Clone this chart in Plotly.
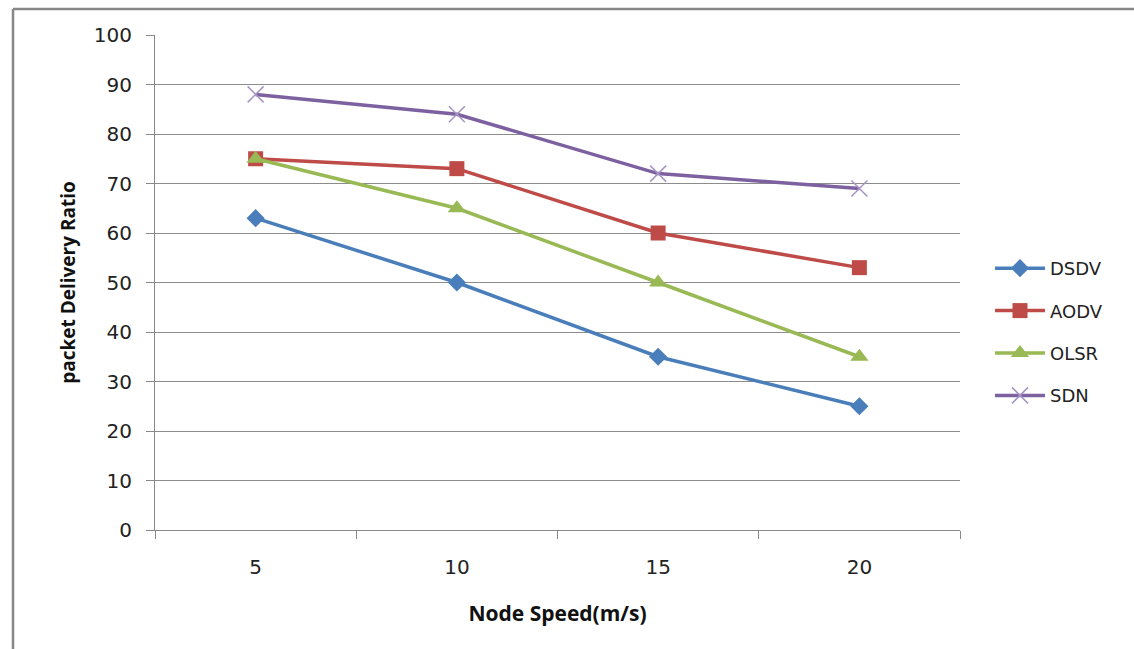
import plotly.graph_objects as go

speeds = [5, 10, 15, 20]
dsdv = [63, 50, 35, 25]
aodv = [75, 73, 60, 53]
olsr = [75, 65, 50, 35]
sdn = [88, 84, 72, 69]

series = [
    ("DSDV", dsdv, "#4a7ebb", dict(symbol="diamond", size=14, color="#4a7ebb")),
    ("AODV", aodv, "#be4b48", dict(symbol="square", size=15, color="#be4b48")),
    ("OLSR", olsr, "#98b954", dict(symbol="triangle-up", size=16, color="#98b954")),
    ("SDN", sdn, "#7d60a0", dict(symbol="x-thin-open", size=16, color="#a594c4", line=dict(width=1.5, color="#a594c4"))),
]

fig = go.Figure()
for i, (name, vals, col, mk) in enumerate(series):
    fig.add_trace(go.Scatter(x=speeds, y=vals, name=name, mode="lines+markers",
                             line=dict(color=col, width=3.5), marker=mk,
                             legendgroup=f"g{i}"))

L, R, T, B = 155, 960, 35, 530
W, H = 1134, 649
pw, ph = R - L, B - T

fig.update_layout(
    width=W, height=H,
    margin=dict(l=L, r=W - R, t=T, b=H - B),
    paper_bgcolor="white", plot_bgcolor="white",
    font=dict(family="DejaVu Sans", color="#222222"),
    showlegend=True,
    legend=dict(x=(990 - L) / pw, y=(530 - 250) / ph, xanchor="left", yanchor="top",
                font=dict(size=18, family="DejaVu Sans", color="#222222"),
                tracegroupgap=16, itemwidth=50, bgcolor="rgba(0,0,0,0)"),
    xaxis=dict(range=[2.5, 22.5], tickvals=speeds, ticktext=[str(s) for s in speeds],
               ticks="", showgrid=False, showline=True, linecolor="#888888", linewidth=1,
               tickfont=dict(size=20, family="DejaVu Sans", color="#222222"),
               ticklabelstandoff=19,
               minor=dict(tick0=2.5, dtick=5, ticks="outside", ticklen=8, tickcolor="#888888", showgrid=False),
               title=dict(text="<b>Node Speed(m/s)</b>", font=dict(size=21, family="Open Sans", color="#111111"), standoff=28),
               zeroline=False),
    yaxis=dict(range=[0, 100], dtick=10, ticks="outside", ticklen=8, tickcolor="#888888",
               showgrid=True, gridcolor="#8c8c8c", gridwidth=1,
               showline=True, linecolor="#888888", linewidth=1,
               tickfont=dict(size=20, family="DejaVu Sans", color="#222222"),
               ticklabelstandoff=10,
               title=dict(text="<b>packet Delivery Ratio</b>", font=dict(size=19, family="Open Sans", color="#111111"), standoff=13),
               zeroline=False),
)

# outer chart border (top and left visible)
bx = (13 - L) / pw
by = (B - 9) / ph
fig.add_shape(type="line", xref="paper", yref="paper", x0=bx, x1=(W + 5 - L) / pw, y0=by, y1=by,
              line=dict(color="#878787", width=2.5))
fig.add_shape(type="line", xref="paper", yref="paper", x0=bx, x1=bx, y0=by, y1=(B - H - 5) / ph,
              line=dict(color="#878787", width=2.5))

fig.write_html("out.html")
